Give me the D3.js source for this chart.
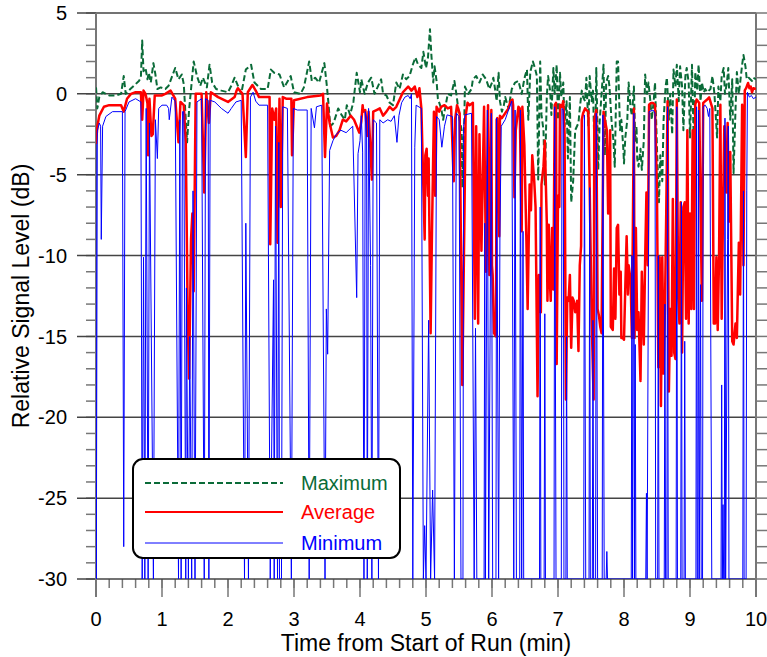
<!DOCTYPE html>
<html>
<head>
<meta charset="utf-8">
<script src="https://cdn.jsdelivr.net/npm/d3@7"></script>
<style>
  body { margin: 0; background: #fff; }
  svg text { font-family: Arial, "Liberation Sans", sans-serif; }
</style>
</head>
<body>
<div id="chart"></div>
<script>
// [time (min), level (dB)]
const maxPts = [
  [0,0.4],[0.02,-0.9],[0.05,-0.2],[0.1,0.1],[0.2,-0.1],[0.3,-0.1],[0.38,0.0],[0.42,1.1],[0.45,0.0],[0.52,0.3],
  [0.6,0.6],[0.65,0.8],[0.68,1.0],[0.7,3.3],[0.72,1.4],[0.75,1.6],[0.78,0.9],[0.8,1.3],[0.83,0.7],[0.87,1.9],
  [0.9,1.2],[0.93,0.3],[0.98,0.4],[1.05,0.3],[1.1,0.5],[1.2,1.6],[1.25,0.9],[1.3,1.2],[1.33,0.6],[1.38,-3.0],
  [1.41,-1.0],[1.48,2.0],[1.53,1.1],[1.58,0.5],[1.62,1.0],[1.68,0.4],[1.72,1.8],[1.76,0.7],[1.82,0.3],[1.9,0.2],
  [2.0,0.1],[2.05,0.5],[2.1,1.0],[2.2,0.0],[2.27,1.5],[2.35,1.8],[2.4,0.7],[2.5,0.3],[2.6,0.3],[2.65,1.5],
  [2.7,1.3],[2.78,1.2],[2.85,0.4],[2.95,1.1],[3.0,0.1],[3.1,0.0],[3.15,0.4],[3.23,2.0],[3.27,0.8],[3.32,1.0],
  [3.38,0.7],[3.46,1.9],[3.5,0.4],[3.52,-0.5],[3.55,-2.0],[3.6,-1.8],[3.67,-0.9],[3.72,-1.3],[3.77,-1.6],[3.8,-0.7],
  [3.85,-1.3],[3.9,-0.5],[3.95,1.3],[4.0,0.1],[4.02,0.9],[4.07,0.0],[4.12,0.7],[4.17,1.0],[4.22,0.0],[4.27,0.45],
  [4.32,0.9],[4.35,0.0],[4.4,-0.1],[4.45,-0.55],[4.5,-0.7],[4.55,0.7],[4.6,0.3],[4.65,1.2],[4.7,0.9],[4.75,1.1],
  [4.8,1.8],[4.84,2.25],[4.88,1.8],[4.93,1.6],[4.96,2.6],[4.98,2.1],[5.0,1.6],[5.03,2.25],[5.06,4.0],[5.08,2.5],
  [5.11,0.7],[5.13,1.7],[5.16,0.8],[5.18,-0.3],[5.23,-0.9],[5.26,-1.6],[5.28,-1.1],[5.33,0.0],[5.38,-0.1],[5.43,0.8],
  [5.46,0.0],[5.51,-1.6],[5.54,-2.25],[5.55,-5.8],[5.58,-1.6],[5.59,0.45],[5.64,0.0],[5.69,0.3],[5.71,0.9],[5.76,1.1],
  [5.81,0.7],[5.86,1.2],[5.91,0.9],[5.96,0.3],[6.0,0.7],[6.02,1.0],[6.05,0.2],[6.07,-0.45],[6.1,1.3],[6.12,-0.45],
  [6.15,-1.1],[6.18,-0.7],[6.2,-0.2],[6.25,-0.9],[6.3,0.3],[6.35,0.7],[6.4,0.8],[6.45,0.0],[6.48,0.7],[6.5,1.1],
  [6.53,1.5],[6.55,-1.6],[6.58,1.35],[6.62,2.0],[6.65,1.6],[6.68,1.1],[6.7,-5.3],[6.73,2.0],[6.75,-1.3],[6.78,-2.25],
  [6.8,-5.6],[6.83,-0.2],[6.85,1.1],[6.88,0.2],[6.9,-1.3],[6.93,1.6],[6.95,0.0],[6.98,1.8],[7.0,-1.6],[7.03,1.3],
  [7.05,-0.2],[7.08,0.7],[7.1,-2.0],[7.13,-0.45],[7.15,-4.0],[7.18,-0.2],[7.2,-6.7],[7.23,-5.4],[7.26,-2.25],[7.31,-1.8],
  [7.33,-0.9],[7.36,0.2],[7.38,-0.2],[7.41,-0.45],[7.43,1.0],[7.46,-2.0],[7.48,1.1],[7.51,-0.45],[7.53,0.2],[7.56,-4.5],
  [7.58,1.6],[7.61,-4.7],[7.63,-1.8],[7.69,1.8],[7.71,-3.8],[7.73,0.7],[7.76,1.1],[7.78,0.45],[7.81,-1.6],[7.84,-2.9],
  [7.86,-4.5],[7.89,2.0],[7.91,2.0],[7.94,-2.25],[7.96,-1.6],[7.99,-3.4],[8.0,-4.3],[8.02,-2.7],[8.05,-1.6],[8.07,0.7],
  [8.1,-0.9],[8.12,-1.35],[8.15,0.45],[8.17,-2.9],[8.19,-2.0],[8.2,-4.0],[8.22,-4.5],[8.25,-3.4],[8.27,-4.7],[8.3,-2.9],
  [8.32,1.2],[8.35,0.0],[8.37,0.7],[8.4,-0.45],[8.42,-1.6],[8.45,-0.45],[8.47,0.7],[8.5,-3.4],[8.53,-6.7],[8.55,-3.8],
  [8.58,-5.4],[8.6,-1.6],[8.63,0.45],[8.65,1.0],[8.68,-1.6],[8.7,0.0],[8.73,-2.5],[8.75,1.5],[8.78,0.45],[8.8,1.8],
  [8.83,-0.45],[8.85,1.7],[8.88,0.45],[8.9,-2.25],[8.93,1.1],[8.95,1.6],[8.98,0.7],[9.0,-2.7],[9.03,1.8],[9.06,-3.6],
  [9.08,1.35],[9.11,0.2],[9.13,1.8],[9.16,-0.45],[9.18,0.7],[9.21,0.1],[9.23,0.3],[9.26,0.1],[9.31,0.3],[9.34,1.1],
  [9.37,0.0],[9.41,-2.7],[9.43,0.45],[9.46,-0.45],[9.48,1.1],[9.51,1.6],[9.53,0.0],[9.56,0.7],[9.58,1.6],[9.61,-1.6],
  [9.64,0.9],[9.66,-4.9],[9.69,-0.9],[9.71,1.35],[9.74,0.0],[9.76,0.7],[9.79,1.8],[9.81,2.4],[9.84,1.7],[9.86,0.9],
  [9.89,1.0],[9.94,0.8],[9.96,1.0],[10.0,0.9]
];

const avgPts = [
  [0,-3.1],[0.02,-2.0],[0.05,-1.35],[0.12,-0.8],[0.2,-0.7],[0.38,-0.7],[0.42,-1.1],[0.47,-0.3],[0.53,0.0],[0.6,0.1],
  [0.68,0.1],[0.7,-1.6],[0.72,0.2],[0.75,0.0],[0.78,-0.6],[0.79,-3.8],[0.81,-0.3],[0.84,-2.6],[0.86,-2.5],[0.89,-0.1],
  [1.0,-0.1],[1.05,0.0],[1.13,0.2],[1.2,-0.3],[1.25,-3.0],[1.28,-0.5],[1.33,-0.7],[1.36,-3.0],[1.39,-14.0],[1.41,-17.6],
  [1.44,-9.0],[1.46,-7.4],[1.48,-12.2],[1.51,0.0],[1.6,0.0],[1.64,-6.1],[1.67,0.1],[1.71,-1.8],[1.74,0.1],[1.85,-0.2],
  [2.0,-0.5],[2.1,-0.2],[2.13,0.2],[2.15,0.35],[2.22,0.0],[2.27,-3.9],[2.3,0.1],[2.37,0.55],[2.42,0.2],[2.47,-0.2],
  [2.63,-0.2],[2.64,-9.3],[2.67,-0.9],[2.7,-1.6],[2.73,-0.9],[2.75,-9.2],[2.78,-0.3],[2.8,-7.0],[2.83,-0.2],[2.88,-0.3],
  [2.96,-0.3],[2.97,-3.8],[3.0,-0.4],[3.2,-0.2],[3.4,-0.1],[3.44,0.0],[3.47,-3.9],[3.5,-0.6],[3.54,-1.8],[3.59,-2.7],
  [3.64,-2.6],[3.69,-2.25],[3.74,-1.6],[3.79,-1.7],[3.86,-1.35],[3.91,-1.6],[3.99,-2.4],[4.02,-1.7],[4.04,-0.7],[4.05,-1.1],
  [4.08,-1.0],[4.11,-2.6],[4.13,-1.1],[4.16,-3.6],[4.18,-5.3],[4.2,-1.1],[4.25,-1.0],[4.3,-0.9],[4.35,-1.35],[4.4,-1.1],
  [4.45,-0.8],[4.5,-1.0],[4.55,-0.8],[4.6,-0.35],[4.65,0.1],[4.73,0.45],[4.78,0.2],[4.83,0.45],[4.87,-0.2],[4.9,0.35],
  [4.93,-0.9],[4.98,-9.0],[4.99,-3.8],[5.01,-3.4],[5.03,-6.3],[5.04,-4.0],[5.07,-14.8],[5.09,-8.7],[5.12,-1.1],[5.14,-6.3],
  [5.16,-0.8],[5.2,-1.1],[5.23,-0.8],[5.28,-0.7],[5.33,-0.9],[5.38,-0.8],[5.42,-5.4],[5.44,-1.6],[5.47,-0.7],[5.51,-1.2],
  [5.55,-18.0],[5.58,-8.3],[5.6,-1.35],[5.63,-0.55],[5.66,-0.7],[5.71,-0.55],[5.74,-13.9],[5.76,-2.0],[5.79,-14.2],[5.81,-2.5],
  [5.84,-9.7],[5.88,-0.8],[5.91,-11.0],[5.94,-0.7],[5.96,-11.2],[5.99,-1.0],[6.0,-10.6],[6.01,-11.2],[6.03,-14.8],[6.06,-15.0],
  [6.07,-1.6],[6.08,-1.5],[6.11,-8.8],[6.12,-1.35],[6.15,-1.5],[6.2,-1.2],[6.25,-0.9],[6.28,-0.45],[6.31,-0.35],[6.32,-0.7],
  [6.34,-6.4],[6.36,-2.25],[6.4,-0.8],[6.42,-0.9],[6.45,-8.5],[6.46,-0.8],[6.49,-3.15],[6.52,-8.8],[6.54,-13.3],[6.57,-5.6],
  [6.59,-7.2],[6.61,-3.8],[6.64,-5.4],[6.66,-7.0],[6.69,-18.7],[6.71,-11.2],[6.74,-13.5],[6.75,-5.6],[6.78,-4.5],[6.8,-2.9],
  [6.83,-7.9],[6.84,-12.8],[6.86,-8.1],[6.88,-11.9],[6.89,-12.8],[6.91,-8.3],[6.93,-12.1],[6.95,-0.7],[6.97,-0.55],[6.98,-16.7],
  [7.0,-6.3],[7.02,-7.0],[7.03,-0.67],[7.06,-0.8],[7.08,-0.45],[7.1,-2.5],[7.12,-18.9],[7.14,-12.6],[7.16,-12.8],[7.18,-11.2],
  [7.2,-15.7],[7.22,-12.6],[7.24,-12.8],[7.26,-13.5],[7.29,-12.8],[7.31,-15.9],[7.33,-10.6],[7.35,-9.4],[7.36,-1.6],[7.38,-1.2],
  [7.41,-0.9],[7.43,-1.0],[7.46,-1.1],[7.48,-5.8],[7.51,-13.9],[7.54,-18.9],[7.55,-1.6],[7.58,-1.0],[7.6,-13.3],[7.62,-13.7],
  [7.64,-14.4],[7.66,-14.8],[7.69,-1.1],[7.71,-1.6],[7.74,-2.25],[7.76,-7.4],[7.79,-2.25],[7.8,-14.4],[7.83,-14.6],[7.85,-10.8],
  [7.87,-13.9],[7.89,-8.3],[7.91,-8.1],[7.93,-12.4],[7.95,-11.0],[7.96,-15.1],[7.98,-15.1],[8.0,-15.2],[8.02,-11.9],[8.04,-8.8],
  [8.06,-12.4],[8.07,-10.6],[8.1,-11.5],[8.12,-15.1],[8.15,-0.9],[8.16,-15.1],[8.18,-8.3],[8.2,-14.6],[8.22,-13.5],[8.25,-17.75],
  [8.27,-11.0],[8.3,-15.5],[8.32,-10.3],[8.34,-6.1],[8.36,-10.6],[8.38,-0.67],[8.41,-0.56],[8.44,-0.56],[8.47,-0.67],[8.5,-6.1],
  [8.52,-16.9],[8.54,-10.1],[8.56,-19.3],[8.58,-10.1],[8.6,-17.3],[8.62,-13.3],[8.64,-7.4],[8.66,-0.45],[8.68,-18.4],[8.7,-13.3],
  [8.72,-16.2],[8.74,-6.5],[8.76,-16.0],[8.78,-16.4],[8.8,-0.35],[8.82,-12.4],[8.84,-14.2],[8.86,-6.7],[8.88,-16.0],[8.9,-7.0],
  [8.92,-6.7],[8.94,-13.9],[8.96,-2.25],[8.98,-14.2],[9.0,-7.4],[9.02,-13.3],[9.04,-2.25],[9.06,-13.3],[9.08,-0.67],[9.1,-0.35],
  [9.14,-0.56],[9.16,-7.0],[9.18,-12.8],[9.2,-0.56],[9.26,-0.35],[9.29,-0.22],[9.34,-0.9],[9.36,-14.2],[9.38,-14.2],[9.4,-10.1],
  [9.42,-14.6],[9.44,-10.1],[9.46,-0.67],[9.48,-13.9],[9.5,-7.4],[9.52,-2.0],[9.55,-6.1],[9.57,-1.8],[9.59,-7.9],[9.61,-3.6],
  [9.64,-15.3],[9.66,-15.5],[9.69,-14.2],[9.71,-15.1],[9.74,-9.2],[9.76,-12.4],[9.79,-0.67],[9.81,-10.6],[9.83,0.22],[9.85,0.35],
  [9.88,0.67],[9.9,0.35],[9.92,0.45],[9.94,0.1],[9.96,0.35],[10.0,0.3]
];

const minPts = [
  [0,-3.1],[0.005,-30],[0.02,-2.3],[0.05,-1.8],[0.07,-2.0],[0.08,-9.0],[0.1,-2.0],[0.15,-1.4],[0.25,-1.1],[0.4,-1.1],
  [0.42,-28.0],[0.44,-1.1],[0.5,-0.5],[0.6,-0.3],[0.68,-0.5],[0.7,-30],[0.72,-10.1],[0.74,-30],[0.76,-0.9],[0.79,-30],
  [0.81,-1.8],[0.87,-30],[0.9,-1.6],[0.93,-4.0],[0.95,-0.9],[1.0,-0.7],[1.07,-0.7],[1.1,-0.9],[1.11,-1.6],[1.15,-0.2],
  [1.2,-0.45],[1.25,-30],[1.27,-1.6],[1.29,-30],[1.31,-1.1],[1.33,-1.1],[1.36,-30],[1.37,-12],[1.4,-30],[1.42,-15],
  [1.45,-30],[1.47,-6],[1.5,-30],[1.53,-0.5],[1.6,-0.3],[1.64,-30],[1.66,-0.3],[1.7,-0.4],[1.71,-30],[1.73,-0.4],
  [1.8,-0.5],[1.9,-0.9],[2.0,-1.2],[2.05,-0.9],[2.12,-0.5],[2.2,-0.4],[2.25,-30],[2.27,-8],[2.31,-30],[2.34,-0.2],
  [2.38,0.1],[2.42,-0.45],[2.47,-0.7],[2.6,-0.7],[2.64,-30],[2.69,-11.5],[2.7,-30],[2.72,-2],[2.75,-30],[2.77,-3],
  [2.78,-30],[2.81,-30],[2.83,-0.8],[2.9,-0.9],[2.96,-30],[2.99,-0.9],[3.05,-1.0],[3.2,-1.0],[3.23,-30],[3.26,-0.9],
  [3.31,-2.1],[3.34,-0.8],[3.42,-0.7],[3.47,-30],[3.49,-13.3],[3.51,-16.1],[3.54,-3.5],[3.59,-2.9],[3.64,-2.5],[3.71,-2.25],
  [3.79,-2.4],[3.89,-2.0],[3.95,-12.6],[3.97,-3.7],[4.0,-2.9],[4.02,-1.35],[4.04,-3.6],[4.06,-30],[4.08,-1.1],[4.1,-1.6],
  [4.11,-30],[4.13,-0.9],[4.16,-10.6],[4.18,-30],[4.2,-1.6],[4.25,-1.8],[4.28,-30],[4.3,-1.6],[4.35,-1.8],[4.42,-1.6],
  [4.47,-1.7],[4.52,-1.35],[4.56,-3.0],[4.59,-1.35],[4.63,-0.55],[4.68,-0.2],[4.73,-0.1],[4.76,-0.3],[4.78,0.0],[4.8,-30],
  [4.83,-3.3],[4.85,-0.7],[4.93,-0.9],[4.96,-30],[4.98,-26.7],[5.0,-30],[5.04,-14],[5.07,-30],[5.1,-24.5],[5.13,-30],
  [5.16,-1.4],[5.2,-1.6],[5.24,-3.3],[5.28,-2.0],[5.32,-1.3],[5.4,-1.4],[5.43,-30],[5.46,-1.2],[5.5,-1.4],[5.53,-30],
  [5.56,-30],[5.57,-2.0],[5.59,-1.3],[5.69,-1.2],[5.73,-30],[5.75,-14.5],[5.77,-30],[5.88,-30],[5.89,-8],[5.9,-30],
  [5.93,-1.0],[5.95,-30],[5.99,-1.2],[6.01,-30],[6.06,-30],[6.07,-1.5],[6.1,-30],[6.12,-8.8],[6.14,-2.0],[6.2,-1.6],
  [6.25,-1.0],[6.3,-0.45],[6.33,-30],[6.35,-1.0],[6.37,-30],[6.42,-30],[6.43,-1.0],[6.45,-30],[6.47,-8.5],[6.48,-30],
  [6.72,-30],[6.73,-7],[6.74,-30],[6.79,-30],[6.8,-13.6],[6.81,-30],[6.94,-30],[6.95,-0.8],[6.97,-30],[7.05,-30],
  [7.06,-0.9],[7.08,-1.0],[7.09,-30],[7.12,-30],[7.13,-15],[7.14,-30],[7.39,-30],[7.4,-1.3],[7.42,-30],[7.47,-30],
  [7.48,-5.8],[7.49,-30],[7.52,-30],[7.53,-14],[7.54,-30],[7.57,-30],[7.58,-1.2],[7.6,-30],[7.67,-30],[7.68,-1.3],
  [7.7,-30],[7.73,-30],[7.74,-28.3],[7.75,-30],[8.11,-30],[8.12,-10],[8.13,-30],[8.15,-1.2],[8.16,-30],[8.17,-15.5],
  [8.18,-30],[8.33,-30],[8.34,-24.7],[8.35,-30],[8.38,-1.1],[8.44,-1.0],[8.47,-1.2],[8.48,-30],[8.51,-30],[8.52,-10],
  [8.53,-30],[8.61,-30],[8.62,-13],[8.63,-30],[8.65,-30],[8.66,-0.8],[8.67,-30],[8.79,-30],[8.8,-0.8],[8.81,-30],
  [8.86,-30],[8.87,-6.7],[8.88,-30],[8.91,-30],[8.92,-15.3],[8.93,-30],[9.09,-30],[9.1,-0.8],[9.11,-30],[9.12,-30],
  [9.13,-1.0],[9.14,-30],[9.16,-11.8],[9.17,-30],[9.19,-30],[9.2,-0.8],[9.23,-0.7],[9.26,-0.9],[9.28,-1.4],[9.3,-0.9],
  [9.33,-30],[9.47,-30],[9.48,-18],[9.49,-30],[9.5,-25.4],[9.51,-30],[9.52,-30],[9.53,-1.5],[9.54,-30],[9.57,-9],
  [9.58,-2],[9.59,-30],[9.8,-30],[9.81,-6],[9.82,-30],[9.85,-30],[9.86,-6],[9.87,0.1],[9.9,-0.2],[9.93,-0.1],
  [9.96,-0.3],[10.0,-0.2]
];

const yMajor = [-30, -25, -20, -15, -10, -5, 0, 5];
const xMajor = [0, 1, 2, 3, 4, 5, 6, 7, 8, 9, 10];
const legendItems = [
  { name: "Maximum", color: "#0a6b38", dash: "6,3", width: 2 },
  { name: "Average", color: "#ff0000", dash: null, width: 2.5 },
  { name: "Minimum", color: "#0000ff", dash: null, width: 1 }
];

const W = 767, H = 657;
const pL = 96, pR = 756, pT = 13, pB = 579;

const svg = d3.select("#chart").append("svg")
  .attr("width", W).attr("height", H);

const x = d3.scaleLinear().domain([0, 10]).range([pL, pR]);
const y = d3.scaleLinear().domain([-30, 5]).range([pB, pT]).clamp(true);

const axisCol = "#777", gridCol = "#444";

// minor ticks
const yMinor = d3.range(-30, 5.01, 1);
svg.append("g").selectAll("line").data(yMinor).join("line")
  .attr("x1", pL - 10).attr("x2", pL)
  .attr("y1", d => y(d)).attr("y2", d => y(d))
  .attr("stroke", axisCol).attr("stroke-width", 1.5);
svg.append("g").selectAll("line").data(yMinor).join("line")
  .attr("x1", pR).attr("x2", pR + 11)
  .attr("y1", d => y(d)).attr("y2", d => y(d))
  .attr("stroke", axisCol).attr("stroke-width", 1.5);
const xMinor = d3.range(0, 10.001, 0.2);
svg.append("g").selectAll("line").data(xMinor).join("line")
  .attr("x1", d => x(d)).attr("x2", d => x(d))
  .attr("y1", pB).attr("y2", pB + 9)
  .attr("stroke", axisCol).attr("stroke-width", 1.5);
svg.append("g").selectAll("line").data(xMajor).join("line")
  .attr("x1", d => x(d)).attr("x2", d => x(d))
  .attr("y1", pB).attr("y2", pB + 18)
  .attr("stroke", axisCol).attr("stroke-width", 1.5);

// gridlines (extend left as major ticks)
svg.append("g").selectAll("line").data(yMajor).join("line")
  .attr("x1", pL - 19).attr("x2", pR)
  .attr("y1", d => y(d)).attr("y2", d => y(d))
  .attr("stroke", gridCol).attr("stroke-width", 1.5);

// axis lines
svg.append("line").attr("x1", pL).attr("x2", pL).attr("y1", pT).attr("y2", pB + 18)
  .attr("stroke", axisCol).attr("stroke-width", 2);
svg.append("line").attr("x1", pR).attr("x2", pR).attr("y1", pT).attr("y2", pB + 18)
  .attr("stroke", axisCol).attr("stroke-width", 2);

// tick labels
svg.append("g").selectAll("text").data(yMajor).join("text")
  .attr("x", 67).attr("y", d => y(d)).attr("dy", "0.36em")
  .attr("text-anchor", "end").attr("font-size", 20).attr("fill", "#000")
  .text(d => d);
svg.append("g").selectAll("text").data(xMajor).join("text")
  .attr("x", d => x(d)).attr("y", 626)
  .attr("text-anchor", "middle").attr("font-size", 20).attr("fill", "#000")
  .text(d => d);

// axis titles
svg.append("text").attr("x", 426).attr("y", 651)
  .attr("text-anchor", "middle").attr("font-size", 23)
  .text("Time from Start of Run (min)");
svg.append("text")
  .attr("transform", `translate(29,${(pT + pB) / 2}) rotate(-90)`)
  .attr("text-anchor", "middle").attr("font-size", 23)
  .text("Relative Signal Level (dB)");

// series
svg.append("clipPath").attr("id", "plotClip")
  .append("rect").attr("x", pL).attr("y", pT - 2).attr("width", pR - pL).attr("height", pB - pT + 2);

const line = d3.line().x(d => x(d[0])).y(d => y(d[1]));
const plot = svg.append("g").attr("clip-path", "url(#plotClip)");
[maxPts, avgPts, minPts].forEach((pts, i) => {
  const s = legendItems[i];
  plot.append("path").datum(pts)
    .attr("d", line)
    .attr("fill", "none")
    .attr("stroke", s.color)
    .attr("stroke-width", s.width)
    .attr("stroke-dasharray", s.dash)
    .attr("stroke-linejoin", "round");
});

// legend
const lg = svg.append("g");
lg.append("rect").attr("x", 133).attr("y", 459).attr("width", 267).attr("height", 99)
  .attr("rx", 10).attr("fill", "#fff").attr("stroke", "#000").attr("stroke-width", 2);
const ly = [483, 512, 543];
legendItems.forEach((s, i) => {
  lg.append("line").attr("x1", 145).attr("x2", 283).attr("y1", ly[i]).attr("y2", ly[i])
    .attr("stroke", s.color).attr("stroke-width", Math.min(s.width, 2)).attr("stroke-dasharray", s.dash);
  lg.append("text").attr("x", 301).attr("y", ly[i]).attr("dy", "0.36em")
    .attr("font-size", 20).attr("fill", s.color).text(s.name);
});
</script>
</body>
</html>
